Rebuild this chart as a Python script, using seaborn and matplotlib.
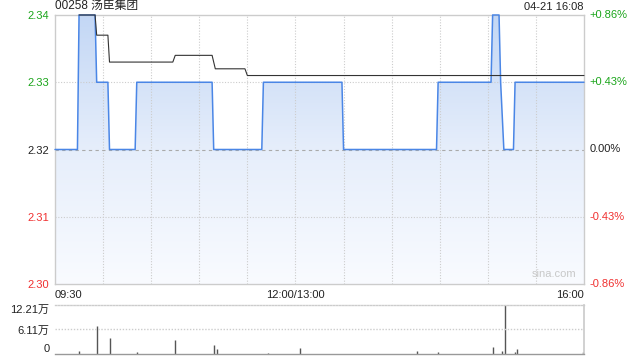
import numpy as np
import pandas as pd
import matplotlib
matplotlib.use("Agg")
import matplotlib.pyplot as plt
import matplotlib.transforms as mtransforms
from matplotlib.colors import LinearSegmentedColormap
import seaborn as sns

# ---------------- data ----------------
title = "00258 汤臣集团"
stamp = "04-21 16:08"
prev_close = 2.32

# minutes from 09:30 (lunch break removed, 330 trading minutes)
price_t = [0, 14, 15, 25, 26, 33, 34, 50, 51, 98, 99, 129, 130, 179, 180, 238,
           239, 272, 273, 277, 278, 280, 286, 287, 330]
price_v = [2.32, 2.32, 2.34, 2.34, 2.33, 2.33, 2.32, 2.32, 2.33, 2.33, 2.32, 2.32,
           2.33, 2.33, 2.32, 2.32, 2.33, 2.33, 2.34, 2.34, 2.33, 2.32, 2.32, 2.33, 2.33]

avg_t = [15, 25, 26, 33, 34, 73.5, 75, 98, 100, 118.5, 120, 330]
avg_v = [2.34, 2.34, 2.337, 2.337, 2.333, 2.333, 2.334, 2.334, 2.332, 2.332, 2.331, 2.331]

vol_t = [15, 26, 34, 51, 75, 99, 101, 133, 153, 226, 239, 273.5, 279, 281, 287, 288.5, 329.5]
vol_v = [0.8, 7.06, 4.07, 0.4, 3.4, 2.3, 1.2, 0.3, 1.5, 0.7, 0.4, 1.66, 0.8, 12.21, 0.4, 1.3, 0.4]  # 万

price_ticks = [2.30, 2.31, 2.32, 2.33, 2.34]
price_labels = ["2.30", "2.31", "2.32", "2.33", "2.34"]
pct_labels = ["-0.86%", "-0.43%", "0.00%", "+0.43%", "+0.86%"]
vol_ticks = [0, 6.11, 12.21]
vol_labels = ["0", "6.11万", "12.21万"]
x_ticks = [0, 150, 330]
x_labels = ["09:30", "12:00/13:00", "16:00"]

price_df = pd.DataFrame({"t": price_t, "price": price_v})
avg_df = pd.DataFrame({"t": avg_t, "avg": avg_v})

# ---------------- style ----------------
sns.set_theme(style="white")
plt.rcParams["font.family"] = ["Liberation Sans", "Noto Sans CJK SC", "DejaVu Sans"]

GREEN = "#1aa51a"
RED = "#f03030"
BLACK = "#222222"
BLUE = "#4a86e6"
GRID = "#cccccc"

fig = plt.figure(figsize=(6.4, 3.6), dpi=100)
ax = fig.add_axes([55 / 640, 1 - 284 / 360, 529 / 640, 269 / 360])
axv = fig.add_axes([55 / 640, 1 - 354 / 360, 529 / 640, 49 / 360])

# ---------------- price panel ----------------
ax.set_xlim(0, 330)
ax.set_ylim(2.30, 2.34)

# gradient fill under price line
poly = ax.fill_between(price_df["t"], price_df["price"], 2.30, color="none", lw=0)
cmap = LinearSegmentedColormap.from_list("g", ["#f9fbff", "#e6eefb", "#c3d7f5"])
grad = np.linspace(0, 1, 256).reshape(-1, 1)
im = ax.imshow(grad, extent=[0, 330, 2.30, 2.34], origin="lower", aspect="auto",
               cmap=cmap, zorder=1)
im.set_clip_path(poly.get_paths()[0], transform=ax.transData)

# grid
for m in range(30, 330, 30):
    ax.axvline(m, color=GRID, lw=0.8, ls=(0, (1, 1.5)), zorder=2)
for y in [2.31, 2.33]:
    ax.axhline(y, color=GRID, lw=0.8, ls=(0, (1, 1.5)), zorder=2)
ax.axhline(prev_close, color="#aaaaaa", lw=0.8, ls=(0, (3, 3)), zorder=2)

sns.lineplot(data=price_df, x="t", y="price", ax=ax, color=BLUE, lw=1.1, zorder=4)
sns.lineplot(data=avg_df, x="t", y="avg", ax=ax, color="#333333", lw=0.8, zorder=5)
for ln in ax.lines[-2:]:
    ln.set_clip_on(False)

ax.set_xlabel("")
ax.set_ylabel("")
for s in ax.spines.values():
    s.set_color(GRID)
    s.set_linewidth(1.0)

ax.set_yticks(price_ticks)
ax.set_yticklabels(price_labels)
ax.tick_params(axis="y", length=0, pad=4, labelsize=8)
for lbl, v in zip(ax.get_yticklabels(), price_ticks):
    lbl.set_color(GREEN if v > prev_close else (RED if v < prev_close else BLACK))

ax.set_xticks(x_ticks)
ax.set_xticklabels(x_labels)
ax.tick_params(axis="x", length=0, pad=4, labelsize=8, labelcolor=BLACK)
xl = ax.get_xticklabels()
xl[0].set_ha("left")
xl[2].set_ha("right")

tr = mtransforms.blended_transform_factory(ax.transAxes, ax.transData)
for v, s in zip(price_ticks, pct_labels):
    c = GREEN if v > prev_close else (RED if v < prev_close else BLACK)
    ax.text(1.011, v, s, transform=tr, ha="left", va="center", fontsize=8, color=c)

ax.text(0.0, 1.012, title, transform=ax.transAxes, ha="left", va="bottom",
        fontsize=8.5, color=BLACK)
ax.text(1.0, 1.012, stamp, transform=ax.transAxes, ha="right", va="bottom",
        fontsize=8, color=BLACK)
ax.text(0.985, 0.02, "sina.com", transform=ax.transAxes, ha="right", va="bottom",
        fontsize=8, color="#c8c8c8")

# ---------------- volume panel ----------------
axv.set_xlim(0, 330)
axv.set_ylim(0, 12.21)
axv.vlines(vol_t, 0, vol_v, color="#555555", lw=1.0)
axv.axhline(6.11, color=GRID, lw=1.0, ls=(0, (1, 1.2)))
axv.set_xticks([])
axv.set_yticks(vol_ticks)
axv.set_yticklabels(vol_labels)
axv.tick_params(axis="y", length=0, pad=4, labelsize=8, labelcolor=BLACK)
vl = axv.get_yticklabels()
vl[0].set_va("bottom")
vl[2].set_va("top")
axv.spines["left"].set_visible(False)
axv.spines["right"].set_color(GRID)
axv.spines["top"].set_color(GRID)
axv.spines["top"].set_linestyle((0, (1, 1.2)))
axv.spines["top"].set_linewidth(1.0)
axv.spines["bottom"].set_color("#999999")
axv.spines["bottom"].set_linestyle((0, (1, 1)))
axv.spines["bottom"].set_linewidth(1.0)

fig.savefig("out.png", dpi=100)
